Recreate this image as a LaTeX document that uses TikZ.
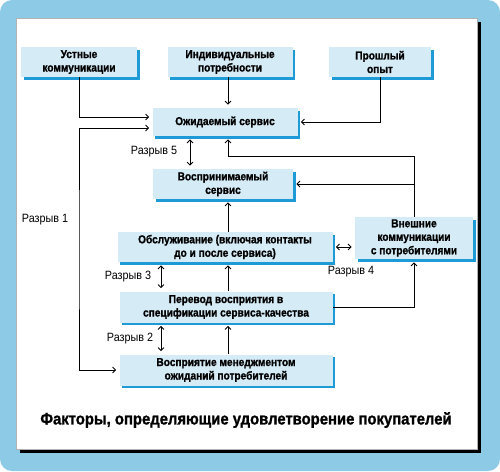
\documentclass[tikz,border=0pt]{standalone}
\usepackage{fontspec}
\setmainfont{Liberation Sans}[FakeStretch=0.9]
\newfontfamily\boxfont{Liberation Sans Bold}[FakeStretch=0.88, FakeBold=1.2]
\newfontfamily\titlefont{Liberation Sans Bold}[FakeStretch=0.9, FakeBold=1.2]
\usetikzlibrary{arrows.meta,shadows}
\definecolor{framebg}{HTML}{8DCAE6}
\definecolor{boxbg}{HTML}{D5EBF6}
\definecolor{boxline}{HTML}{1E9BD7}
\tikzset{
	box/.style={fill=boxbg, minimum height=30pt, inner sep=2pt, align=center,
		font=\boxfont\fontsize{11.5}{13.5}\selectfont,
		drop shadow={fill=boxline, opacity=1, shadow xshift=2.5pt, shadow yshift=-2.5pt}},
	gaplabel/.style={font=\fontsize{12}{14}\selectfont},
	arr/.style={-{Straight Barb[length=3pt,width=6pt]}, shorten >=3pt},
	gap/.style={{Straight Barb[length=3pt,width=6pt]}-{Straight Barb[length=3pt,width=6pt]}, shorten >=3pt, shorten <=3pt}
}
\begin{document}
\begin{tikzpicture}[x=1pt, y=-1pt, line width=.8pt]
		\useasboundingbox (0,0) rectangle (500,471);
		\fill [framebg, rounded corners=12pt] (0,0) rectangle (500,471);
		\fill [black] (20,22) rectangle (481,453);
		\draw [fill=white, draw=gray!60, line width=.4pt] (16,18) rectangle (477,449);
		
		\node [box, minimum width=116pt] (ust) at (79,62) {Устные\\коммуникации};
		\node [box, minimum width=125pt] (ind) at (230,62) {Индивидуальные\\потребности};
		\node [box, minimum width=102pt] (opyt) at (380,62) {Прошлый\\опыт};
		
		\node [box, minimum width=145pt, minimum height=28pt] (ozh) at (225,122) {Ожидаемый сервис};
		\node [box, minimum width=140pt] (vosp) at (223,184) {Воспринимаемый\\сервис};
		\node [box, minimum width=215pt] (obsl) at (225,247) {Обслуживание (включая контакты\\до и после сервиса)};
		\node [box, minimum width=118pt, minimum height=42pt] (vnesh) at (414,238) {Внешние\\коммуникации\\с потребителями};
		\node [box, minimum width=213pt, minimum height=31pt] (perev) at (226,307) {Перевод восприятия в\\спецификации сервиса-качества};
		\node [box, minimum width=213pt, minimum height=31pt] (men) at (226,370) {Восприятие менеджментом\\ожиданий потребителей};
		
		\coordinate (ax) at (228,0); \coordinate (g1) at (79,250); \coordinate (fb) at (228,156);
		\coordinate (g5) at (190,0); \coordinate (g23) at (161,0);
		
		\draw [arr] (ust.south) |- ([yshift=5pt]ozh.west);
		\draw [gap] ([yshift=-6pt]ozh.west) -| (g1) |- (men.west);
		\draw [arr] (ind.south -| ax) -- (ozh.north -| ax);
		\draw [arr] (opyt.south) |- (ozh.east);
		
		\draw [gap] (ozh.south -| g5) -- (vosp.north -| g5);
		\draw [arr] (vnesh.north) |- (fb) -- (ozh.south -| fb);
		\draw [arr] (vnesh.north |- vosp.east) -- (vosp.east);
		\draw [arr] (obsl.north -| ax) -- (vosp.south -| ax);
		\draw [gap] (obsl.east) -- (obsl.east -| vnesh.west);
		\draw [arr] (perev.north -| ax) -- (obsl.south -| ax);
		\draw [arr] (perev.east) -| (vnesh.south);
		\draw [arr] (men.north -| ax) -- (perev.south -| ax);
		\draw [gap] (obsl.south -| g23) -- (perev.north -| g23);
		\draw [gap] (perev.south -| g23) -- (men.north -| g23);
		
		\node [gaplabel] (r1) at (45,220) {Разрыв 1};
		\node [gaplabel] (r5) at (154,152) {Разрыв 5};
		\node [gaplabel] (r3) at (128,277) {Разрыв 3};
		\node [gaplabel] (r2) at (130,339) {Разрыв 2};
		\node [gaplabel] (r4) at (351,272) {Разрыв 4};
		
		\node [font=\titlefont\fontsize{16.5}{18}\selectfont] (title) at (246,420) {Факторы, определяющие удовлетворение покупателей};
\end{tikzpicture}
\end{document}
